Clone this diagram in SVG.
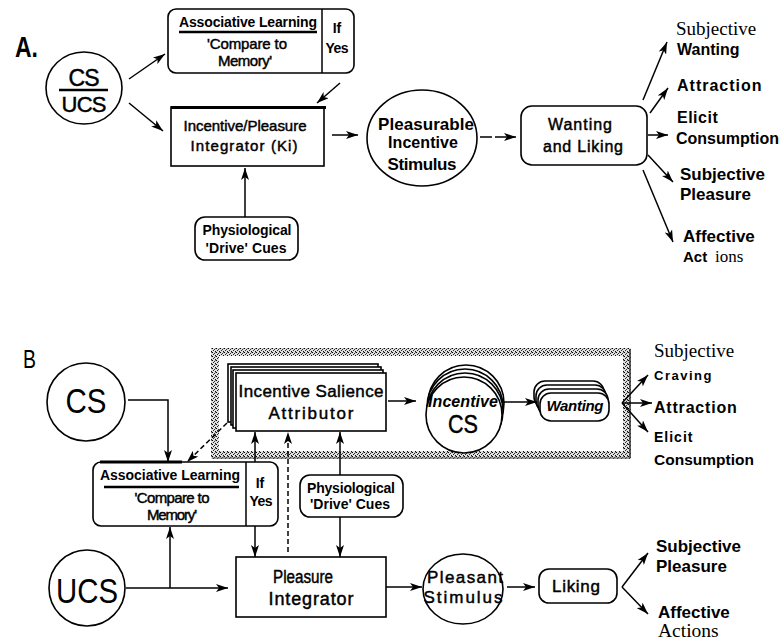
<svg xmlns="http://www.w3.org/2000/svg" width="783" height="644" viewBox="0 0 783 644">
<defs>
<marker id="ah" viewBox="0 0 12 8" refX="12" refY="4" markerWidth="12" markerHeight="8" orient="auto" markerUnits="userSpaceOnUse"><path d="M0,0 L12,4 L0,8 L3,4 z" fill="#000"/></marker>
<pattern id="dith" width="4" height="4" patternUnits="userSpaceOnUse"><rect width="4" height="4" fill="#e0e0e0"/><rect x="0" y="0" width="1" height="1" fill="#000"/><rect x="2" y="1" width="1" height="1" fill="#333"/><rect x="1" y="2" width="1" height="1" fill="#222"/><rect x="3" y="3" width="1" height="1" fill="#111"/><rect x="3" y="0" width="1" height="1" fill="#777"/></pattern>
</defs>
<style>
text{font-family:"Liberation Sans",Arial,sans-serif;fill:#000}
.b{font-weight:bold}
.m{font-weight:normal;stroke:#000;stroke-width:0.45}
.c{text-anchor:middle}
.s{font-family:"Liberation Serif","Times New Roman",serif;font-weight:normal}
.i{font-style:italic}
.box{fill:#fff;stroke:#000;stroke-width:1.6}
.ln{fill:none;stroke:#000;stroke-width:1.5}
.arr{fill:none;stroke:#000;stroke-width:1.5;marker-end:url(#ah)}
.dash{stroke-dasharray:5 3}
</style>
<rect width="783" height="644" fill="#fff"/>

<!-- Panel A -->
<g id="labelA"><text class="b" x="15" y="57" font-size="30" textLength="23" lengthAdjust="spacingAndGlyphs">A.</text></g>
<g id="csucsA">
<ellipse class="box" cx="84" cy="88" rx="38" ry="36"/>
<line x1="59" y1="90" x2="108" y2="90" stroke="#000" stroke-width="2.5"/>
<text class="m c" x="84" y="86" font-size="23" textLength="31">CS</text>
<text class="m c" x="84" y="112" font-size="22" textLength="45">UCS</text>
</g>
<g id="assocA">
<rect class="box" x="168" y="9" width="186" height="64" rx="8"/>
<line class="ln" x1="322" y1="9" x2="322" y2="73"/>
<text class="b c" x="248" y="27" font-size="14" textLength="138">Associative Learning</text>
<line x1="179" y1="32" x2="317" y2="32" stroke="#000" stroke-width="2.5"/>
<text class="m c" x="247" y="49" font-size="15" textLength="80">'Compare to</text>
<text class="m c" x="245" y="66" font-size="15" textLength="54">Memory'</text>
<text class="b c" x="337" y="33" font-size="14">If</text>
<text class="b c" x="337" y="53" font-size="14" textLength="23">Yes</text>
</g>
<g id="integratorA">
<rect class="box" x="171" y="107" width="153" height="59"/>
<line x1="171" y1="107.5" x2="326" y2="107.5" stroke="#000" stroke-width="3"/>
<text class="m c" x="245" y="131" font-size="15" textLength="123">Incentive/Pleasure</text>
<text class="m c" x="244" y="151" font-size="15" textLength="107">Integrator (Ki)</text>
</g>
<g id="physA">
<rect class="box" x="195" y="217" width="103" height="43" rx="10"/>
<text class="b c" x="247" y="235" font-size="14" textLength="89">Physiological</text>
<text class="b c" x="246" y="253" font-size="14" textLength="81">'Drive' Cues</text>
</g>
<g id="pleasurableA">
<ellipse class="box" cx="422" cy="138" rx="55" ry="48"/>
<text class="b c" x="426" y="130" font-size="17" textLength="96">Pleasurable</text>
<text class="b c" x="423" y="148" font-size="16" textLength="70">Incentive</text>
<text class="b c" x="422" y="170" font-size="17" textLength="69">Stimulus</text>
</g>
<g id="wantlikeA">
<rect class="box" x="521" y="106" width="126" height="59" rx="11"/>
<text class="m c" x="580" y="130" font-size="16" textLength="64">Wanting</text>
<text class="m c" x="583" y="152" font-size="16" textLength="80">and Liking</text>
</g>
<g id="outputsA">
<text class="s" x="676" y="35" font-size="19">Subjective</text>
<text class="b" x="677" y="55" font-size="16">Wanting</text>
<text class="b" x="677" y="91" font-size="16" letter-spacing="1">Attraction</text>
<text class="b" x="677" y="123" font-size="16" letter-spacing="0.5">Elicit</text>
<text class="b" x="676" y="144" font-size="16">Consumption</text>
<text class="b" x="680" y="180" font-size="17">Subjective</text>
<text class="b" x="680" y="200" font-size="17">Pleasure</text>
<text class="b" x="683" y="242" font-size="17">Affective</text>
<text class="b" x="683" y="262" font-size="15">Act</text>
<text class="s" x="715" y="262" font-size="17">ions</text>
</g>
<g id="connectorsA">
<line class="arr" x1="129" y1="79" x2="165" y2="54"/>
<line class="arr" x1="129" y1="103" x2="163" y2="131"/>
<line class="arr" x1="340" y1="83" x2="317" y2="103"/>
<line class="arr" x1="245" y1="217" x2="245" y2="168"/>
<line class="arr" x1="332" y1="135" x2="358" y2="135"/>
<line class="arr" x1="480" y1="137" x2="516" y2="137" stroke-width="2.5" stroke-dasharray="12 3 30"/>
<line class="arr" x1="643" y1="100" x2="667" y2="42"/>
<line class="arr" x1="650" y1="113" x2="668" y2="88"/>
<line class="arr" x1="648" y1="135" x2="668" y2="135"/>
<line class="arr" x1="648" y1="155" x2="673" y2="182"/>
<line class="arr" x1="643" y1="170" x2="673" y2="242"/>
</g>

<!-- Panel B -->
<g id="labelB"><text x="23" y="368" font-size="25" textLength="13" lengthAdjust="spacingAndGlyphs">B</text></g>
<g id="frameB">
<rect x="215" y="352" width="412" height="103" fill="none" stroke="url(#dith)" stroke-width="8"/>
<line x1="630" y1="349" x2="630" y2="458" stroke="#333" stroke-width="1.5"/>
<line x1="212" y1="458" x2="630" y2="458" stroke="#555" stroke-width="1"/>
</g>
<g id="csB">
<circle class="box" cx="86" cy="402" r="39"/>
<text class="c" x="86" y="413" font-size="35" textLength="41" lengthAdjust="spacingAndGlyphs">CS</text>
</g>
<g id="attributorB">
<rect class="box" x="228" y="364" width="150" height="58"/>
<rect class="box" x="231" y="367" width="150" height="58"/>
<rect class="box" x="233" y="370" width="150" height="58"/>
<rect class="box" x="236" y="373" width="150" height="58"/>
<text class="m c" x="311" y="397" font-size="17" textLength="145">Incentive Salience</text>
<text class="m c" x="311" y="419" font-size="17" textLength="85">Attributor</text>
</g>
<g id="incentiveCS">
<circle class="box" cx="466" cy="403" r="38"/>
<circle class="box" cx="465" cy="407" r="38"/>
<circle class="box" cx="465" cy="411" r="38"/>
<circle class="box" cx="464" cy="415" r="38"/>
<text class="b i c" x="463" y="407" font-size="16" textLength="70">Incentive</text>
<text class="m c" x="463" y="433" font-size="26" textLength="30" lengthAdjust="spacingAndGlyphs">CS</text>
</g>
<g id="wantingB">
<rect class="box" x="534" y="381" width="70" height="27" rx="11"/>
<rect class="box" x="536" y="385" width="70" height="27" rx="11"/>
<rect class="box" x="538" y="389" width="70" height="27" rx="11"/>
<rect class="box" x="540" y="393" width="69" height="28" rx="11"/>
<text class="b i c" x="575" y="411" font-size="15" textLength="57">Wanting</text>
</g>
<g id="outputsBtop">
<text class="s" x="654" y="357" font-size="19">Subjective</text>
<text class="b" x="654" y="380" font-size="13" letter-spacing="1.5">Craving</text>
<text class="b" x="654" y="413" font-size="16" letter-spacing="0.8">Attraction</text>
<text class="b" x="654" y="442" font-size="14" letter-spacing="1">Elicit</text>
<text class="b" x="654" y="465" font-size="15.5">Consumption</text>
</g>
<g id="assocB">
<rect class="box" x="93" y="462" width="185" height="64" rx="8"/>
<line class="ln" x1="246" y1="462" x2="246" y2="526"/>
<line x1="100" y1="462" x2="182" y2="462" stroke="#000" stroke-width="3"/>
<text class="b c" x="170" y="480" font-size="14" textLength="140">Associative Learning</text>
<line x1="104" y1="487" x2="239" y2="487" stroke="#000" stroke-width="2.5"/>
<text class="m c" x="172" y="503" font-size="15" textLength="75">'Compare to</text>
<text class="m c" x="172" y="520" font-size="15" textLength="50">Memory'</text>
<text class="b c" x="260" y="488" font-size="14">If</text>
<text class="b c" x="261" y="506" font-size="14" textLength="23">Yes</text>
</g>
<g id="physB">
<rect class="box" x="300" y="475" width="103" height="42" rx="10"/>
<text class="b c" x="351" y="493" font-size="14" textLength="88">Physiological</text>
<text class="b c" x="350" y="509" font-size="14" textLength="80">'Drive' Cues</text>
</g>
<g id="ucsB">
<circle class="box" cx="87" cy="588" r="38"/>
<text class="c" x="87" y="603" font-size="35" textLength="62" lengthAdjust="spacingAndGlyphs">UCS</text>
</g>
<g id="pleasureIntegratorB">
<rect class="box" x="236" y="557" width="150" height="60"/>
<text class="m c" x="303" y="583" font-size="18" textLength="60" lengthAdjust="spacingAndGlyphs">Pleasure</text>
<text class="m c" x="311" y="605" font-size="18" textLength="85">Integrator</text>
</g>
<g id="pleasantB">
<ellipse class="box" cx="463" cy="589" rx="40" ry="35"/>
<text class="m c" x="465" y="583" font-size="17" textLength="76">Pleasant</text>
<text class="m c" x="463" y="603" font-size="17" textLength="79">Stimulus</text>
</g>
<g id="likingB">
<rect class="box" x="539" y="569" width="78" height="34" rx="10"/>
<text class="m c" x="576" y="592" font-size="17" textLength="48">Liking</text>
</g>
<g id="outputsBbottom">
<text class="b" x="656" y="552" font-size="17">Subjective</text>
<text class="b" x="656" y="572" font-size="17">Pleasure</text>
<text class="b" x="658" y="618" font-size="17">Affective</text>
<text class="s" x="658" y="637" font-size="19.5">Actions</text>
</g>
<g id="connectorsB">
<path class="arr" d="M128,400 H168 V462"/>
<line class="arr dash" x1="227" y1="423" x2="187" y2="462"/>
<line class="arr" x1="255" y1="462" x2="255" y2="432"/>
<line class="arr" x1="255" y1="526" x2="255" y2="557"/>
<line class="arr dash" x1="288" y1="552" x2="288" y2="432"/>
<line class="arr" x1="340" y1="475" x2="340" y2="432"/>
<line class="arr" x1="340" y1="517" x2="340" y2="557"/>
<line class="arr" x1="126" y1="588" x2="228" y2="588"/>
<line class="arr" x1="170" y1="588" x2="170" y2="527"/>
<line class="arr" x1="388" y1="401" x2="416" y2="401"/>
<line class="arr" x1="503" y1="402" x2="537" y2="402"/>
<line class="arr" x1="622" y1="403" x2="648" y2="375"/>
<line class="arr" x1="622" y1="403" x2="652" y2="403"/>
<line class="arr" x1="622" y1="403" x2="648" y2="432"/>
<line class="arr" x1="386" y1="587" x2="422" y2="587"/>
<line class="arr" x1="507" y1="587" x2="535" y2="587"/>
<line class="arr" x1="622" y1="587" x2="648" y2="553"/>
<line class="arr" x1="622" y1="587" x2="648" y2="614"/>
</g>
</svg>
